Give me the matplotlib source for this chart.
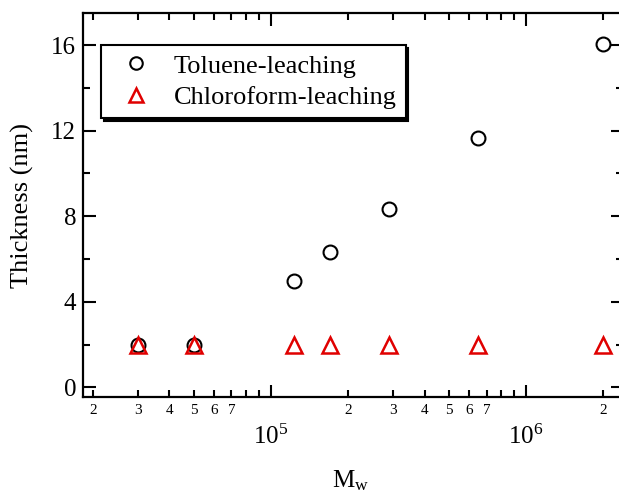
import numpy as np
import matplotlib
matplotlib.use('Agg')
import matplotlib.pyplot as plt
from matplotlib.ticker import LogLocator, FuncFormatter, MultipleLocator

plt.rcParams['font.family'] = ['Liberation Serif', 'DejaVu Serif']
plt.rcParams['mathtext.fontset'] = 'custom'
plt.rcParams['mathtext.rm'] = 'Liberation Serif'
plt.rcParams['mathtext.it'] = 'Liberation Serif:italic'

# molecular weight of the samples and measured film thickness
mw = [3.0e4, 5.0e4, 1.23e5, 1.70e5, 2.9e5, 6.5e5, 2.0e6]
toluene = [2.0, 2.0, 4.95, 6.35, 8.35, 11.65, 16.05]
chloroform = [2.0, 2.0, 2.0, 2.0, 2.0, 2.0, 2.0]

fig = plt.figure(figsize=(6.19, 4.96), dpi=100)
ax = fig.add_axes([83/619, 99/496, 540/619, 384/496])

ax.plot(mw, toluene, 'o', ms=10, mfc='none', mec='black', mew=1.5,
        label='Toluene-leaching')
ax.plot(mw, chloroform, '^', ms=11, mfc='none', mec='#e00000', mew=1.8,
        label='Chloroform-leaching')

ax.set_xscale('log')
ax.set_xlim(1.832e4, 2.40e6)
ax.set_ylim(-0.45, 17.5)

ax.yaxis.set_major_locator(MultipleLocator(4))
ax.yaxis.set_minor_locator(MultipleLocator(2))

ax.xaxis.set_major_locator(LogLocator(base=10))
ax.xaxis.set_minor_locator(LogLocator(base=10, subs=np.arange(2, 10)))

def minor_fmt(v, pos):
    d = int(round(v / 10**np.floor(np.log10(v))))
    return str(d) if 2 <= d <= 7 else ''

ax.xaxis.set_minor_formatter(FuncFormatter(minor_fmt))

for s in ax.spines.values():
    s.set_linewidth(1.6)

ax.tick_params(which='both', direction='in', top=True, right=True, width=1.5)
ax.tick_params(axis='y', which='major', length=9, labelsize=18, pad=5)
ax.tick_params(axis='y', which='minor', length=5)
ax.tick_params(axis='x', which='major', length=9, labelsize=18, pad=20)
ax.tick_params(axis='x', which='minor', length=5, labelsize=11, pad=5)

ax.set_ylabel('Thickness (nm)', fontsize=19)
ax.yaxis.set_label_coords(-0.09, 0.5)
ax.set_xlabel(r'$\mathregular{M_w}$', fontsize=18)
ax.xaxis.set_label_coords(0.495, -0.185)

leg = ax.legend(loc='upper left', bbox_to_anchor=(0.033, 0.917),
                borderaxespad=0, fontsize=19, frameon=True, fancybox=False,
                shadow={'color': 'black', 'alpha': 1},
                borderpad=0.35, labelspacing=0.3, handlelength=2.0,
                handletextpad=0.4, numpoints=1, markerscale=0.9)
leg.get_frame().set_edgecolor('black')
leg.get_frame().set_linewidth(1.5)

fig.savefig('out.png', dpi=100)
